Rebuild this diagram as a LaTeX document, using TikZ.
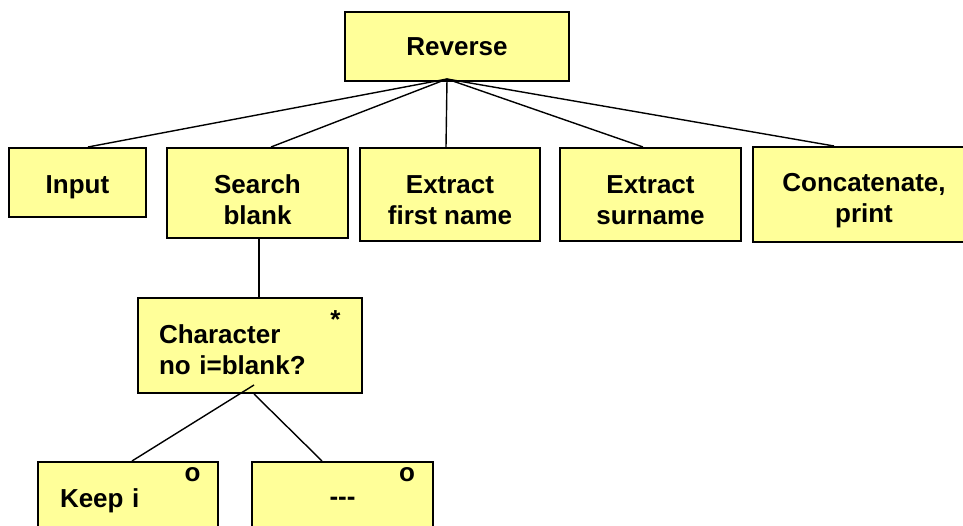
\documentclass[tikz,border=0pt]{standalone}
\usepackage{fontspec}
\newfontfamily\diagfont{Liberation Sans}
\usepackage{tikz}
\usetikzlibrary{positioning}
\definecolor{boxFill}{HTML}{FFFF99}
\newcommand{\lift}[1]{\rule{0pt}{#1}}

\begin{document}
\begin{tikzpicture}[
            x=1pt, y=-1pt,
            box/.style={
                    draw=black,
                    fill=boxFill,
                    rectangle,
                    line width=2pt,
                    align=center,
                    font=\diagfont\bfseries\fontsize{26}{31}\selectfont
                },
            markTag/.style={
                    inner sep=0pt,
                    font=\diagfont\bfseries\fontsize{26}{31}\selectfont
                },
            link/.style={
                    draw=black,
                    line width=1.4pt
                }
            ]

            \clip (0,0) rectangle (963,526);

            % Wurzel
            \node[box, minimum width=224pt, minimum height=69pt] (reverse) at (457,46.5) {Reverse};

            % Erste Ebene
            \node[box, minimum width=137pt, minimum height=69pt] (input) at (77.5,182.5) {\lift{27pt}Input};
            \node[box, minimum width=181pt, minimum height=90pt] (searchBlank) at (257.5,193) {\lift{33pt}Search\\blank};
            \node[box, minimum width=180pt, minimum height=93pt] (extractFirst) at (450,194.5) {\lift{30pt}Extract\\first name};
            \node[box, minimum width=181pt, minimum height=93pt] (extractSurname) at (650.5,194.5) {\lift{30pt}Extract\\surname};
            \node[box, minimum width=222pt, minimum height=95pt] (concatPrint) at (864,194.5) {\lift{31pt}Concatenate,\\print};

            % Schleife
            \node[box, align=left, text width=182pt, inner xsep=21pt, minimum height=95pt] (charTest) at (250,345.5) {\lift{27pt}Character\\no i=blank?};
            \node[markTag, anchor=base] (charStar) at (335.5,329) {*};

            % Auswahl
            \node[box, align=left, text width=136pt, inner xsep=22pt, minimum height=78pt] (keepI) at (128,501) {Keep i};
            \node[box, minimum width=181pt, minimum height=78pt] (skipBox) at (342.5,501) {---};
            \node[markTag] (keepMark) at (192.5,475) {o};
            \node[markTag] (skipMark) at (407,475) {o};

            % --- VERBINDUNGEN ---
            \coordinate (revJoin) at (447,79);
            \draw[link] (revJoin) -- ([xshift=80pt]input.north west);
            \draw[link] (revJoin) -- ([xshift=105pt]searchBlank.north west);
            \draw[link] (revJoin) -- ([xshift=87pt]extractFirst.north west);
            \draw[link] (revJoin) -- ([xshift=84pt]extractSurname.north west);
            \draw[link] (revJoin) -- ([xshift=82pt]concatPrint.north west);

            \draw[link] ([xshift=93pt]searchBlank.south west) -- ([xshift=122pt]charTest.north west);

            \coordinate (charJoin) at (254,385);
            \draw[link] (charJoin) -- ([xshift=95pt]keepI.north west);
            \draw[link] (charJoin |- charTest.south) -- ([xshift=71pt]skipBox.north west);

        \end{tikzpicture}
\end{document}
